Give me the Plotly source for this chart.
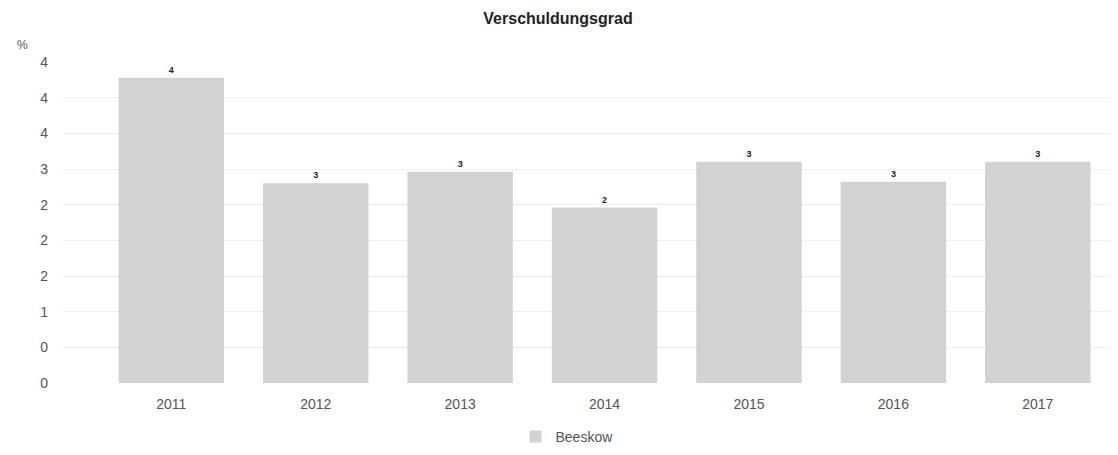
import plotly.graph_objects as go

years = ["2011", "2012", "2013", "2014", "2015", "2016", "2017"]
values = [4.28, 2.80, 2.96, 2.46, 3.10, 2.82, 3.10]
series_name = "Beeskow"
y_tick_vals = [0, 0.5, 1, 1.5, 2, 2.5, 3, 3.5, 4, 4.5]
y_tick_labels = ["0", "0", "1", "2", "2", "2", "3", "4", "4", "4"]
title_text = "Verschuldungsgrad"
unit_text = "%"

W, H = 1110, 447
L, R, T, B = 55, 8, 54, 72
PW, PH = W - L - R, H - T - B

fig = go.Figure()
fig.add_trace(go.Bar(
    x=years, y=values, name=series_name,
    marker=dict(color="#d2d2d2", line=dict(width=0)),
    texttemplate="<b>%{y:.0f}</b>", textposition="outside", cliponaxis=False,
    textfont=dict(family="Liberation Sans, Arial, sans-serif", size=9, color="#222"),
    showlegend=True,
))

fig.update_layout(
    width=W, height=H,
    paper_bgcolor="white", plot_bgcolor="white",
    margin=dict(l=L, r=R, t=T, b=B, autoexpand=False),
    bargap=0.27,
    font=dict(family="Liberation Sans, Arial, sans-serif", color="#555"),
    title=dict(text="<b>" + title_text + "</b>", xref="container",
               x=550 / W, xanchor="center",
               yref="container", y=1 - 10 / H, yanchor="middle",
               font=dict(size=16, color="#222")),
    xaxis=dict(type="category", range=[-0.75, 6.5], showgrid=False,
               showline=False, zeroline=False, ticks="", automargin=False,
               ticklabelstandoff=11,
               tickfont=dict(size=14, color="#555")),
    yaxis=dict(range=[0, 4.5], tickvals=y_tick_vals, ticktext=y_tick_labels,
               showgrid=True, gridcolor="#eeeeee", gridwidth=1,
               zeroline=False, showline=False, ticks="", automargin=False,
               ticklabelstandoff=14,
               tickfont=dict(size=14, color="#555")),
    legend=dict(orientation="h", x=(559 - L) / PW, xanchor="center",
                y=-54 / PH, yanchor="middle",
                font=dict(size=14, color="#555")),
    annotations=[dict(text=unit_text, xref="paper", yref="paper",
                      x=(14 - L) / PW, xanchor="center",
                      y=1 + 17 / PH, yanchor="middle", showarrow=False,
                      font=dict(size=12, color="#555"))],
)

fig.write_html("out.html")
